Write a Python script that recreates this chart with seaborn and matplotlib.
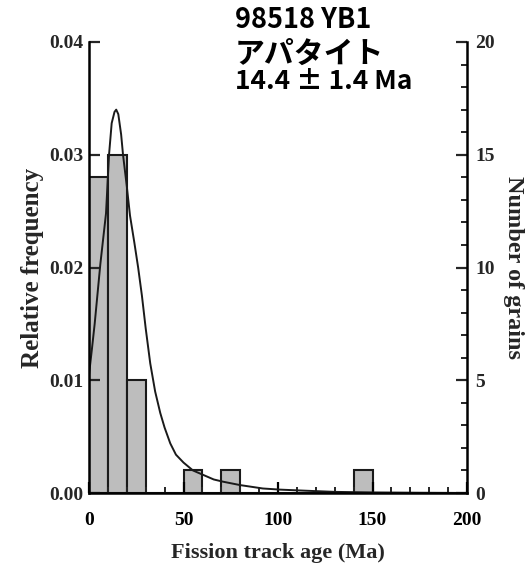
import matplotlib
matplotlib.use("Agg")
import matplotlib.pyplot as plt
from matplotlib.ticker import MultipleLocator, FormatStrFormatter
import seaborn as sns
import pandas as pd

# ---- data ----
bin_edges = [0, 10, 20, 30, 40, 50, 60, 70, 80, 90, 100, 110, 120, 130, 140, 150,
             160, 170, 180, 190, 200]
bin_centers = [5, 15, 25, 55, 75, 145]
grain_counts = [14, 15, 5, 1, 1, 1]

curve_age = [0, 1.5, 3, 6, 9, 10.6, 12, 13.5, 14.4, 15.5, 17, 18, 20, 21.7, 24, 26,
             28, 30, 32.4, 35, 37.7, 40, 43, 46, 50, 55, 60.5, 66, 71, 80, 92, 101,
             115, 130, 150, 175, 200]
curve_freq = [0.0105, 0.0127, 0.0150, 0.0203, 0.0248, 0.0300, 0.0328, 0.0338, 0.0340,
              0.0336, 0.0318, 0.0300, 0.0272, 0.0246, 0.0222, 0.0200, 0.0175, 0.0146,
              0.0115, 0.0090, 0.0071, 0.0058, 0.0044, 0.0034, 0.0027, 0.0020, 0.0016,
              0.0012, 0.0010, 0.0007, 0.0004, 0.0003, 0.0002, 0.0001, 0.00005,
              0.00002, 0.0]

title_lines = ["98518 YB1", "アパタイト", "14.4 ± 1.4 Ma"]
x_label = "Fission track age (Ma)"
y_left_label = "Relative frequency"
y_right_label = "Number of grains"

sns.set_theme(style="white")
plt.rcParams["font.family"] = ["Liberation Serif", "DejaVu Serif"]

fig = plt.figure(figsize=(5.28, 5.68), dpi=100)
ax = fig.add_axes([89 / 528, 1 - 493 / 568, (467 - 89) / 528, (493 - 42) / 568])
ax2 = ax.twinx()

hist_df = pd.DataFrame({"age": bin_centers, "n": grain_counts})
sns.histplot(data=hist_df, x="age", weights="n", bins=bin_edges, stat="count",
             color="#bdbdbd", edgecolor="#1a1a1a", linewidth=1.5, alpha=1.0, ax=ax2)

curve_df = pd.DataFrame({"age": curve_age, "freq": curve_freq})
sns.lineplot(data=curve_df, x="age", y="freq", color="#1a1a1a", linewidth=1.4, ax=ax)

ax.set_zorder(ax2.get_zorder() + 1)
ax.patch.set_visible(False)

ax.set_xlim(0, 200)
ax.set_ylim(0, 0.04)
ax2.set_ylim(0, 20)

ax.xaxis.set_major_locator(MultipleLocator(50))
ax.xaxis.set_minor_locator(MultipleLocator(10))
ax.yaxis.set_major_locator(MultipleLocator(0.01))
ax.yaxis.set_major_formatter(FormatStrFormatter("%.2f"))
ax2.yaxis.set_major_locator(MultipleLocator(5))
ax2.yaxis.set_minor_locator(MultipleLocator(1))

for a in (ax, ax2):
    a.spines["top"].set_visible(False)
    for s in a.spines.values():
        s.set_linewidth(1.8)
        s.set_color("black")
ax.spines["right"].set_visible(False)
ax2.spines["left"].set_visible(False)
ax2.spines["bottom"].set_visible(False)

ax.tick_params(axis="x", which="major", direction="in", length=8, width=1.6,
               top=False, bottom=True, pad=14, labelsize=14, colors="black")
ax.tick_params(axis="x", which="minor", direction="in", length=4, width=1.4,
               top=False, bottom=True)
ax.tick_params(axis="y", which="major", direction="in", length=8, width=1.6,
               left=True, right=False, pad=4, labelsize=14)
ax2.tick_params(axis="y", which="major", direction="in", length=8, width=1.6,
                right=True, left=False, pad=6, labelsize=14)
ax2.tick_params(axis="y", which="minor", direction="in", length=4, width=1.4,
                right=True, left=False)
ax2.tick_params(axis="x", bottom=False, top=False, labelbottom=False)

for lab in ax.get_xticklabels() + ax.get_yticklabels() + ax2.get_yticklabels():
    lab.set_fontweight("bold")

ax.set_xlabel(x_label, fontsize=16, fontweight="bold", labelpad=10)
ax.set_ylabel(y_left_label, fontsize=18, fontweight="bold", labelpad=4)
ax2.set_ylabel(y_right_label, fontsize=17.5, fontweight="bold", rotation=270,
               labelpad=21)
ax2.set_xlabel("")

cjk = ["Noto Sans CJK JP", "DejaVu Sans"]
ys = [1 - 28 / 568, 1 - 63 / 568, 1 - 89 / 568]
sizes = [19.5, 21.5, 19]
for txt, yy, fs in zip(title_lines, ys, sizes):
    fig.text(235 / 528, yy, txt, family=cjk, fontsize=fs, fontweight="bold",
             va="baseline", ha="left", color="black")

fig.savefig("out.png", dpi=100)
